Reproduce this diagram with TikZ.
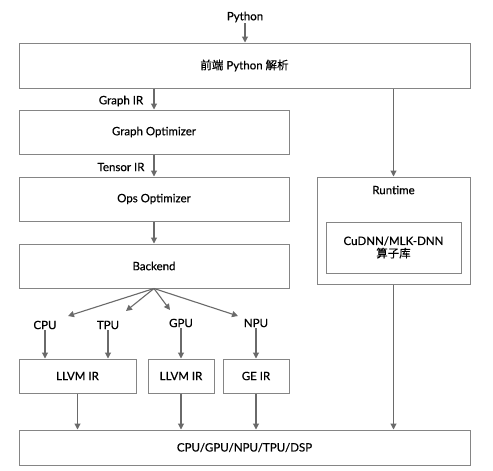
\documentclass[tikz,border=0pt]{standalone}
\usepackage{fontspec}
\setmainfont{Lato}[FakeBold=0.5]
\newfontfamily\cjk{Noto Sans CJK SC}[FakeBold=0.3]
\usetikzlibrary{arrows.meta,shadows}
\definecolor{boxgray}{HTML}{858585}
\definecolor{arrgray}{HTML}{6A6A6A}
\begin{document}
\begin{tikzpicture}[x=1pt,y=-1pt,
  font=\fontsize{11.5}{13.5}\selectfont,
  box/.style={draw=boxgray, line width=1pt, fill=white, inner sep=0pt,
    drop shadow={shadow xshift=1pt, shadow yshift=-1pt, opacity=0.25}},
  lbl/.style={inner sep=1pt},
  arr/.style={draw=arrgray, line width=1.1pt, -{Triangle[width=6pt,length=6pt]}},
  ln/.style={draw=arrgray, line width=1.1pt}]
\useasboundingbox[fill=white] (0,0) rectangle (493,471);

\node[lbl] (python) at (245,17) {Python};
\node[box, minimum width=451pt, minimum height=45pt] (top) at (244.5,65.5) {{\cjk 前端} Python {\cjk 解析}};
\node[box, minimum width=270pt, minimum height=44pt] (graph) at (154,132) {Graph Optimizer};
\node[box, minimum width=270pt, minimum height=44pt] (ops) at (154,199) {Ops Optimizer};
\node[box, minimum width=270pt, minimum height=44pt] (backend) at (154,266) {Backend};
\node[lbl] (graphir) at (121,101) {Graph IR};
\node[lbl] (tensorir) at (121,167) {Tensor IR};

\node[box, minimum width=153pt, minimum height=107pt] (runtime) at (393.5,230.5) {};
\node[lbl] (rtlabel) at (393.5,190) {Runtime};
\node[box, minimum width=135pt, minimum height=51pt, align=center] (cudnn) at (393.5,247.5) {CuDNN/MLK-DNN\\[-1pt]{\cjk 算子库}};

\node[lbl] (cpu) at (45,325) {CPU};
\node[lbl] (tpu) at (108,325) {TPU};
\node[lbl] (gpu) at (181,323) {GPU};
\node[lbl] (npu) at (256,323) {NPU};

\node[box, minimum width=117pt, minimum height=34pt] (llvma) at (77.5,376) {LLVM IR};
\node[box, minimum width=66pt, minimum height=34pt] (llvmb) at (181,376) {LLVM IR};
\node[box, minimum width=66pt, minimum height=34pt] (geir) at (256,376) {GE IR};

\node[box, minimum width=451pt, minimum height=35pt] (bottom) at (244.5,447.5) {CPU/GPU/NPU/TPU/DSP};

\coordinate (ec) at (68,316);
\coordinate (et) at (126,311);
\coordinate (eg) at (170,310);
\coordinate (en) at (238,316);

\draw[arr] (python.south) -- (python.south |- top.north);
\draw[arr] (top.south -| graph.north) -- (graph.north);
\draw[arr] (graph.south) -- (ops.north);
\draw[arr] (ops.south) -- (backend.north);
\draw[arr] (backend.south) -- (ec);
\draw[arr] (backend.south) -- (et);
\draw[arr] (backend.south) -- (eg);
\draw[arr] (backend.south) -- (en);
\draw[arr] (cpu.south) -- (cpu.south |- llvma.north);
\draw[arr] (tpu.south) -- (tpu.south |- llvma.north);
\draw[arr] (gpu.south) -- (gpu.south |- llvmb.north);
\draw[arr] (npu.south) -- (npu.south |- geir.north);
\draw[arr] (llvma.south) -- (llvma.south |- bottom.north);
\draw[arr] (llvmb.south) -- (llvmb.south |- bottom.north);
\draw[arr] (geir.south) -- (geir.south |- bottom.north);
\draw[arr] (top.south -| runtime.north) -- (runtime.north);
\draw[arr] (runtime.south) -- (runtime.south |- bottom.north);
\end{tikzpicture}
\end{document}
